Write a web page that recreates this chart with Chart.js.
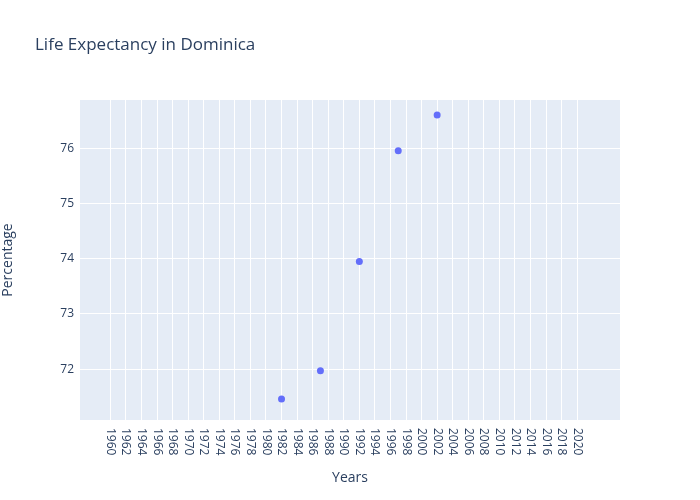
<!DOCTYPE html>
<html>
<head>
<meta charset="utf-8">
<script src="https://cdn.jsdelivr.net/npm/chart.js@4"></script>
<style>
  body { margin: 0; background: #fff; }
  #wrap { width: 700px; height: 500px; }
</style>
</head>
<body>
<div id="wrap"><canvas id="c"></canvas></div>
<script>
const years = [1982, 1987, 1992, 1997, 2002];
const lifeExpectancy = [71.46, 71.97, 73.95, 75.95, 76.6];
const xTicks = [];
for (let y = 1960; y <= 2020; y += 2) xTicks.push(y);
const yTicks = [72, 73, 74, 75, 76];

const font = 'Open Sans, "Noto Sans", sans-serif';
const textColor = '#2a3f5f';

// plotly-style labels: rotated to read top to bottom, plus the title
const plotlyText = {
  id: 'plotlyText',
  afterDraw(chart) {
    const ctx = chart.ctx;
    const xs = chart.scales.x;
    ctx.save();
    ctx.fillStyle = textColor;
    ctx.font = '12px ' + font;
    ctx.textAlign = 'left';
    ctx.textBaseline = 'middle';
    xTicks.forEach(v => {
      const px = xs.getPixelForValue(v);
      ctx.save();
      ctx.translate(px, xs.top + 8);
      ctx.rotate(Math.PI / 2);
      ctx.fillText(String(v), 0, 0);
      ctx.restore();
    });
    ctx.font = '17px ' + font;
    ctx.textBaseline = 'middle';
    ctx.fillText('Life Expectancy in Dominica', 35, 45);
    ctx.restore();
  }
};

new Chart(document.getElementById('c'), {
  type: 'scatter',
  data: {
    datasets: [{
      data: years.map((y, i) => ({ x: y, y: lifeExpectancy[i] })),
      backgroundColor: '#636efa',
      borderWidth: 0,
      pointRadius: 3.5,
      pointHoverRadius: 3.5
    }]
  },
  options: {
    responsive: true,
    maintainAspectRatio: false,
    animation: false,
    layout: { padding: { top: 100, right: 80, left: 0, bottom: 0 } },
    plugins: { legend: { display: false }, tooltip: { enabled: false } },
    scales: {
      x: {
        type: 'linear',
        min: 1956.1,
        max: 2025.5,
        afterBuildTicks: s => { s.ticks = xTicks.map(v => ({ value: v })); },
        afterFit: s => { s.height = 80; },
        grid: { color: '#ffffff', lineWidth: 1, drawTicks: false },
        border: { display: false },
        ticks: { color: 'rgba(0,0,0,0)', maxRotation: 90, minRotation: 90, autoSkip: false, font: { size: 12, family: font } },
        title: { display: true, text: 'Years', color: textColor, font: { size: 14, family: font }, padding: { top: 0, bottom: 14 } }
      },
      y: {
        min: 71.08,
        max: 76.87,
        afterBuildTicks: s => { s.ticks = yTicks.map(v => ({ value: v })); },
        afterFit: s => { s.width = 80; },
        grid: { color: '#ffffff', lineWidth: 1, drawTicks: false },
        border: { display: false },
        ticks: { color: textColor, padding: 6, font: { size: 12, family: font } },
        title: { display: true, text: 'Percentage', color: textColor, font: { size: 14, family: font }, padding: { top: 0, bottom: 8 } }
      }
    }
  },
  plugins: [{
    id: 'bg',
    beforeDraw(chart) {
      const a = chart.chartArea, ctx = chart.ctx;
      ctx.save();
      ctx.fillStyle = '#e5ecf6';
      ctx.fillRect(a.left, a.top, a.right - a.left, a.bottom - a.top);
      ctx.restore();
    }
  }, plotlyText]
});
</script>
</body>
</html>
